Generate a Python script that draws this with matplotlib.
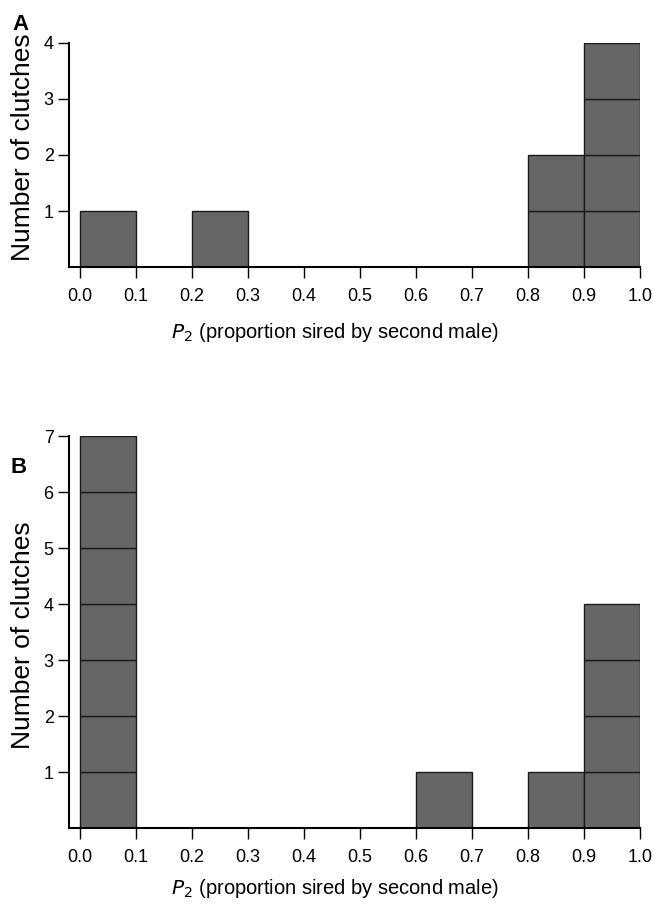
import matplotlib
matplotlib.use('Agg')
import matplotlib.pyplot as plt
import numpy as np

plt.rcParams['font.family'] = ['Liberation Sans', 'DejaVu Sans']

# P2 histogram bins (width 0.1) and clutch counts per bin
bin_left = [0.0, 0.1, 0.2, 0.3, 0.4, 0.5, 0.6, 0.7, 0.8, 0.9]
counts_a = [1, 0, 1, 0, 0, 0, 0, 0, 2, 4]
counts_b = [7, 0, 0, 0, 0, 0, 1, 0, 1, 4]
xticks = [0.0, 0.1, 0.2, 0.3, 0.4, 0.5, 0.6, 0.7, 0.8, 0.9, 1.0]

FILL = '#666666'
EDGE = '#1a1a1a'
W, H = 653, 913


def stacked_boxes(ax, counts):
    # one box per clutch, stacked within each bin
    lefts, bottoms = [], []
    for x, n in zip(bin_left, counts):
        for k in range(n):
            lefts.append(x)
            bottoms.append(k)
    ax.bar(lefts, [1] * len(lefts), width=0.1, bottom=bottoms, align='edge',
           color=FILL, edgecolor=EDGE, linewidth=1.0, zorder=2)


def style(ax, ymax):
    ax.set_xlim(-0.02, 1.0)
    ax.set_ylim(0, ymax)
    ax.set_xticks(xticks)
    ax.set_xticklabels([f"{t:.1f}" for t in xticks])
    ax.set_yticks(range(1, ymax + 1))
    for s in ['top', 'right']:
        ax.spines[s].set_visible(False)
    for s in ['left', 'bottom']:
        ax.spines[s].set_linewidth(1.5)
        ax.spines[s].set_zorder(3)
    ax.tick_params(axis='x', length=8, width=1.0, pad=7, labelsize=13)
    ax.tick_params(axis='y', length=8, width=1.0, pad=3, labelsize=13)


fig = plt.figure(figsize=(W / 100, H / 100), dpi=100)

# panel A
ax_a = fig.add_axes([69 / W, 1 - 267 / H, 571 / W, 224 / H])
stacked_boxes(ax_a, counts_a)
style(ax_a, 4)

# panel B
ax_b = fig.add_axes([69 / W, 1 - 828 / H, 571 / W, 392 / H])
stacked_boxes(ax_b, counts_b)
style(ax_b, 7)

xlabel = r"$\it{P}$$_2$ (proportion sired by second male)"
fig.text(335 / W, 1 - 332 / H, xlabel, ha='center', va='center', fontsize=14.5)
fig.text(335 / W, 1 - 888 / H, xlabel, ha='center', va='center', fontsize=14.5)

fig.text(23 / W, 1 - 147 / H, "Number of clutches", rotation=90,
         ha='center', va='center', fontsize=19)
fig.text(23 / W, 1 - 635 / H, "Number of clutches", rotation=90,
         ha='center', va='center', fontsize=19)

fig.text(12 / W, 1 - 24 / H, "A", fontsize=16, fontweight='bold', va='center')
fig.text(10 / W, 1 - 467 / H, "B", fontsize=16, fontweight='bold', va='center')

fig.savefig('out.png', dpi=100)
plt.close(fig)
